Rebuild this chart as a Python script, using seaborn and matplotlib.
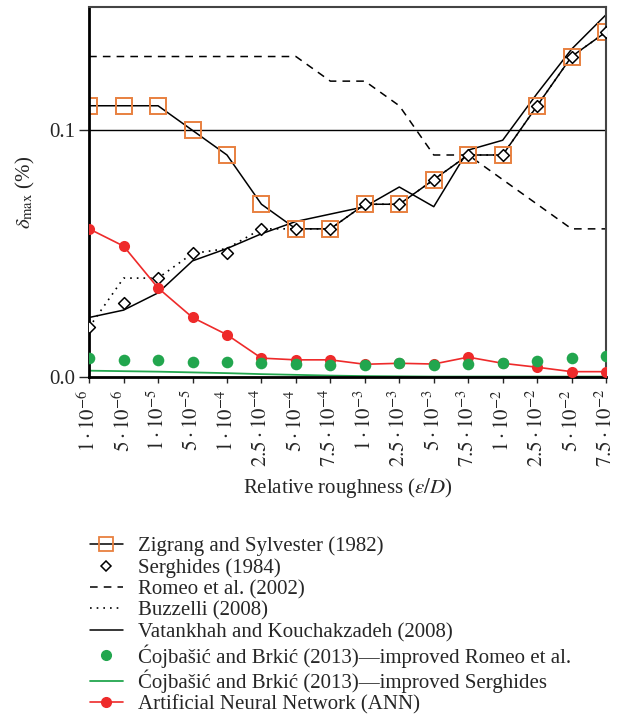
import matplotlib
matplotlib.use("Agg")
import matplotlib.pyplot as plt
import seaborn as sns
import numpy as np
from matplotlib.lines import Line2D

# relative roughness categories (mantissa, exponent)
mantissa = ['1', '5', '1', '5', '1', '2.5', '5', '7.5', '1', '2.5', '5', '7.5', '1', '2.5', '5', '7.5']
exponent = [-6, -6, -5, -5, -4, -4, -4, -4, -3, -3, -3, -3, -2, -2, -2, -2]

zigrang = [0.11, 0.11, 0.11, 0.10, 0.09, 0.07, 0.06, 0.06, 0.07, 0.07, 0.08, 0.09, 0.09, 0.11, 0.13, 0.14]
serghides = [0.02, 0.03, 0.04, 0.05, 0.05, 0.06, 0.06, 0.06, 0.07, 0.07, 0.08, 0.09, 0.09, 0.11, 0.13, 0.14]
romeo = [0.13, 0.13, 0.13, 0.13, 0.13, 0.13, 0.13, 0.12, 0.12, 0.11, 0.09, 0.09, 0.08, 0.07, 0.06, 0.06]
buzzelli = [0.02, 0.04, 0.04, 0.05, 0.052, 0.06, 0.06, 0.06, 0.07, 0.07, 0.08, 0.09, 0.09, 0.11, 0.13, 0.14]
vatankhah = [0.024, 0.027, 0.034, 0.047, 0.052, 0.058, 0.063, 0.066, 0.069, 0.077, 0.069, 0.092, 0.096, 0.115, 0.133, 0.147]
cojb_romeo = [0.0075, 0.0069, 0.0068, 0.0061, 0.0059, 0.0054, 0.0051, 0.0048, 0.0049, 0.0054, 0.0049, 0.0051, 0.0054, 0.0062, 0.0075, 0.0083]
cojb_serghides = [0.0024, 0.0022, 0.002, 0.0017, 0.0014, 0.001, 0.0007, 0.0004, 0.0002, 0.0001, 0, 0, 0, 0, 0, 0]
ann = [0.060, 0.053, 0.036, 0.024, 0.017, 0.0075, 0.0068, 0.0068, 0.005, 0.0054, 0.0051, 0.0079, 0.0054, 0.0038, 0.002, 0.002]

labels = ['Zigrang and Sylvester (1982)', 'Serghides (1984)', 'Romeo et al. (2002)', 'Buzzelli (2008)',
          'Vatankhah and Kouchakzadeh (2008)',
          'Ćojbašić and Brkić (2013)—improved Romeo et al.',
          'Ćojbašić and Brkić (2013)—improved Serghides',
          'Artificial Neural Network (ANN)']

sns.set_style("white")
plt.rcParams['font.family'] = ['Liberation Serif', 'DejaVu Serif']
plt.rcParams['mathtext.fontset'] = 'stix'
plt.rcParams['font.size'] = 15

orange = '#E8803F'
green = '#22A64E'
red = '#EE2A2A'

fig = plt.figure(figsize=(6.32, 7.27), dpi=100)
ax = fig.add_axes([0.141, 0.482, 0.818, 0.508])
x = np.arange(len(mantissa))

ax.axhline(0.1, color='black', lw=1.0, zorder=1)
sns.lineplot(x=x, y=romeo, ax=ax, color='black', linestyle=(0, (5, 4)), lw=1.1)
sns.lineplot(x=x, y=buzzelli, ax=ax, color='black', linestyle=(0, (1, 3)), lw=1.2)
sns.lineplot(x=x, y=vatankhah, ax=ax, color='black', lw=1.1)
sns.lineplot(x=x, y=cojb_serghides, ax=ax, color=green, lw=1.3)
sns.lineplot(x=x, y=zigrang, ax=ax, color='black', lw=1.1, marker='s', markersize=11,
             markerfacecolor='none', markeredgecolor=orange, markeredgewidth=1.4)
sns.scatterplot(x=x, y=serghides, ax=ax, marker='D', s=36, facecolor='white',
                edgecolor='black', linewidth=1.1, zorder=5)
sns.lineplot(x=x, y=ann, ax=ax, color=red, lw=1.2, marker='o', markersize=8,
             markeredgecolor=red, markeredgewidth=0, zorder=6)
sns.scatterplot(x=x, y=cojb_romeo, ax=ax, color=green, s=70, linewidth=0, zorder=7)

ax.set_xlim(0, len(mantissa) - 1)
ax.set_ylim(0, 0.15)
ax.set_xticks(x)
ax.set_xticklabels([r'$%s\cdot10^{%d}$' % (m, e) for m, e in zip(mantissa, exponent)],
                   rotation=90, fontsize=15)
ax.set_yticks([0.0, 0.1])
ax.set_yticklabels(['0.0', '0.1'], fontsize=15)
ax.tick_params(axis='x', direction='out', length=4, width=1, bottom=True, pad=5)
ax.tick_params(axis='y', direction='out', length=7, width=1, left=True, pad=3)
ax.set_xlabel(r'Relative roughness ($\varepsilon/D$)', fontsize=15, labelpad=6)
ax.set_ylabel(r'$\delta_{\mathrm{max}}$ (%)', fontsize=15, labelpad=9)
for side in ['left', 'bottom']:
    ax.spines[side].set_color('black')
    ax.spines[side].set_linewidth(2)
for side in ['top', 'right']:
    ax.spines[side].set_color('#444444')
    ax.spines[side].set_linewidth(1.5)

handles = [
    Line2D([], [], color='black', lw=1.1, marker='s', ms=10, mfc='none', mec=orange, mew=1.3),
    Line2D([], [], color='black', lw=0, marker='D', ms=5, mfc='white', mec='black', mew=1.1),
    Line2D([], [], color='black', lw=1.1, linestyle=(0, (5, 4))),
    Line2D([], [], color='black', lw=1.2, linestyle=(0, (1, 3))),
    Line2D([], [], color='black', lw=1.1),
    Line2D([], [], color=green, lw=0, marker='o', ms=7, mec=green),
    Line2D([], [], color=green, lw=1.3),
    Line2D([], [], color=red, lw=1.2, marker='o', ms=7, mec=red),
]
fig.legend(handles, labels, loc='upper left', bbox_to_anchor=(0.142, 0.262), frameon=False,
           fontsize=15, labelspacing=0.09, handlelength=1.6, handletextpad=0.7, borderpad=0,
           borderaxespad=0)

fig.savefig('out.png', dpi=100)
